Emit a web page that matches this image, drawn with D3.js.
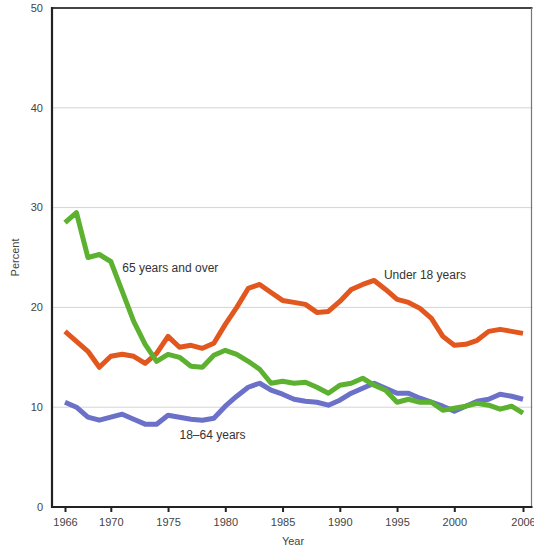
<!DOCTYPE html>
<html>
<head>
<meta charset="utf-8">
<script src="https://cdn.jsdelivr.net/npm/d3@7"></script>
<style>
  html, body { margin: 0; padding: 0; background: #fff; }
  svg { display: block; font-family: "Liberation Sans", Arial, sans-serif; }
</style>
</head>
<body>
<svg id="chart" width="534" height="548"></svg>
<script>
const years = d3.range(1966, 2007);
const under18 = [17.6,16.6,15.6,14.0,15.1,15.3,15.1,14.4,15.4,17.1,16.0,16.2,15.9,16.4,18.3,20.0,21.9,22.3,21.5,20.7,20.5,20.3,19.5,19.6,20.6,21.8,22.3,22.7,21.8,20.8,20.5,19.9,18.9,17.1,16.2,16.3,16.7,17.6,17.8,17.6,17.4];
const age18to64 = [10.5,10.0,9.0,8.7,9.0,9.3,8.8,8.3,8.3,9.2,9.0,8.8,8.7,8.9,10.1,11.1,12.0,12.4,11.7,11.3,10.8,10.6,10.5,10.2,10.7,11.4,11.9,12.4,11.9,11.4,11.4,10.9,10.5,10.1,9.6,10.1,10.6,10.8,11.3,11.1,10.8];
const age65plus = [28.5,29.5,25.0,25.3,24.6,21.6,18.6,16.3,14.6,15.3,15.0,14.1,14.0,15.2,15.7,15.3,14.6,13.8,12.4,12.6,12.4,12.5,12.0,11.4,12.2,12.4,12.9,12.2,11.7,10.5,10.8,10.5,10.5,9.7,9.9,10.1,10.4,10.2,9.8,10.1,9.4];
const xTicks = [1966,1970,1975,1980,1985,1990,1995,2000,2006];
const yTicks = [0,10,20,30,40,50];
const seriesNames = ["Under 18 years","18\u201364 years","65 years and over"];
const seriesColors = ["#e2571e","#6b70c8","#5cb230"];
const labelYears = [1993.85, 1976.0, 1971.0];
const labelValues = [23.25, 7.2, 23.95];

const W = 534, H = 548;
const margin = {top: 8, right: 1.5, bottom: 41, left: 52};
const svg = d3.select("#chart");

const x = d3.scaleLinear().domain([1966, 2006]).range([65, 523]);
const y = d3.scaleLinear().domain([0, 50]).range([H - margin.bottom, margin.top]);
const pLeft = margin.left, pRight = W - margin.right, pTop = margin.top, pBottom = H - margin.bottom;

// gridlines
svg.append("g").selectAll("line").data(yTicks.filter(d => d > 0 && d < 50)).join("line")
  .attr("x1", pLeft).attr("x2", pRight)
  .attr("y1", d => y(d)).attr("y2", d => y(d))
  .attr("stroke", "#d4d4d4").attr("stroke-width", 1);

// frame: top and right
svg.append("line").attr("x1", pLeft).attr("x2", pRight).attr("y1", pTop).attr("y2", pTop)
  .attr("stroke", "#444").attr("stroke-width", 2);
svg.append("line").attr("x1", pRight - 1).attr("x2", pRight - 1).attr("y1", pTop).attr("y2", pBottom)
  .attr("stroke", "#777").attr("stroke-width", 1.2);

// y tick labels
svg.append("g").selectAll("text").data(yTicks).join("text")
  .attr("x", 43).attr("y", d => y(d)).attr("dy", "0.35em")
  .attr("text-anchor", "end").attr("font-size", 11).attr("fill", "#444")
  .text(d => d);

// x axis
const xAxis = d3.axisBottom(x).tickValues(xTicks).tickFormat(d3.format("d")).tickSize(5).tickPadding(6);
const gx = svg.append("g").attr("transform", `translate(0,${pBottom})`).call(xAxis);
gx.select(".domain").remove();
gx.selectAll(".tick line").attr("stroke", "#222").attr("stroke-width", 2);
gx.selectAll(".tick text").attr("font-size", 11).attr("fill", "#444")
  .attr("font-family", "Liberation Sans, Arial, sans-serif");

// axis lines
svg.append("line").attr("x1", pLeft).attr("x2", pLeft).attr("y1", pTop - 1).attr("y2", pBottom + 1)
  .attr("stroke", "#222").attr("stroke-width", 2.2);
svg.append("line").attr("x1", pLeft - 1).attr("x2", pRight).attr("y1", pBottom).attr("y2", pBottom)
  .attr("stroke", "#222").attr("stroke-width", 2.2);

// axis titles
svg.append("text").attr("transform", `translate(15,${(pTop + pBottom) / 2}) rotate(-90)`)
  .attr("text-anchor", "middle").attr("dy", "0.35em").attr("font-size", 11).attr("fill", "#444")
  .text("Percent");
svg.append("text").attr("x", 293).attr("y", 541).attr("dy", "0.35em")
  .attr("text-anchor", "middle").attr("font-size", 11).attr("fill", "#444").text("Year");

// lines
const allSeries = [under18, age18to64, age65plus];
const line = d3.line().x((d, i) => x(years[i])).y(d => y(d));
svg.append("g").selectAll("path").data(allSeries).join("path")
  .attr("d", d => line(d))
  .attr("fill", "none")
  .attr("stroke", (d, i) => seriesColors[i])
  .attr("stroke-width", 5)
  .attr("stroke-linejoin", "round")
  .attr("stroke-linecap", "butt");

// labels
svg.append("g").selectAll("text").data(seriesNames).join("text")
  .attr("x", (d, i) => x(labelYears[i])).attr("y", (d, i) => y(labelValues[i]))
  .attr("dy", "0.35em").attr("font-size", 12).attr("fill", "#333")
  .text(d => d);
</script>
</body>
</html>
